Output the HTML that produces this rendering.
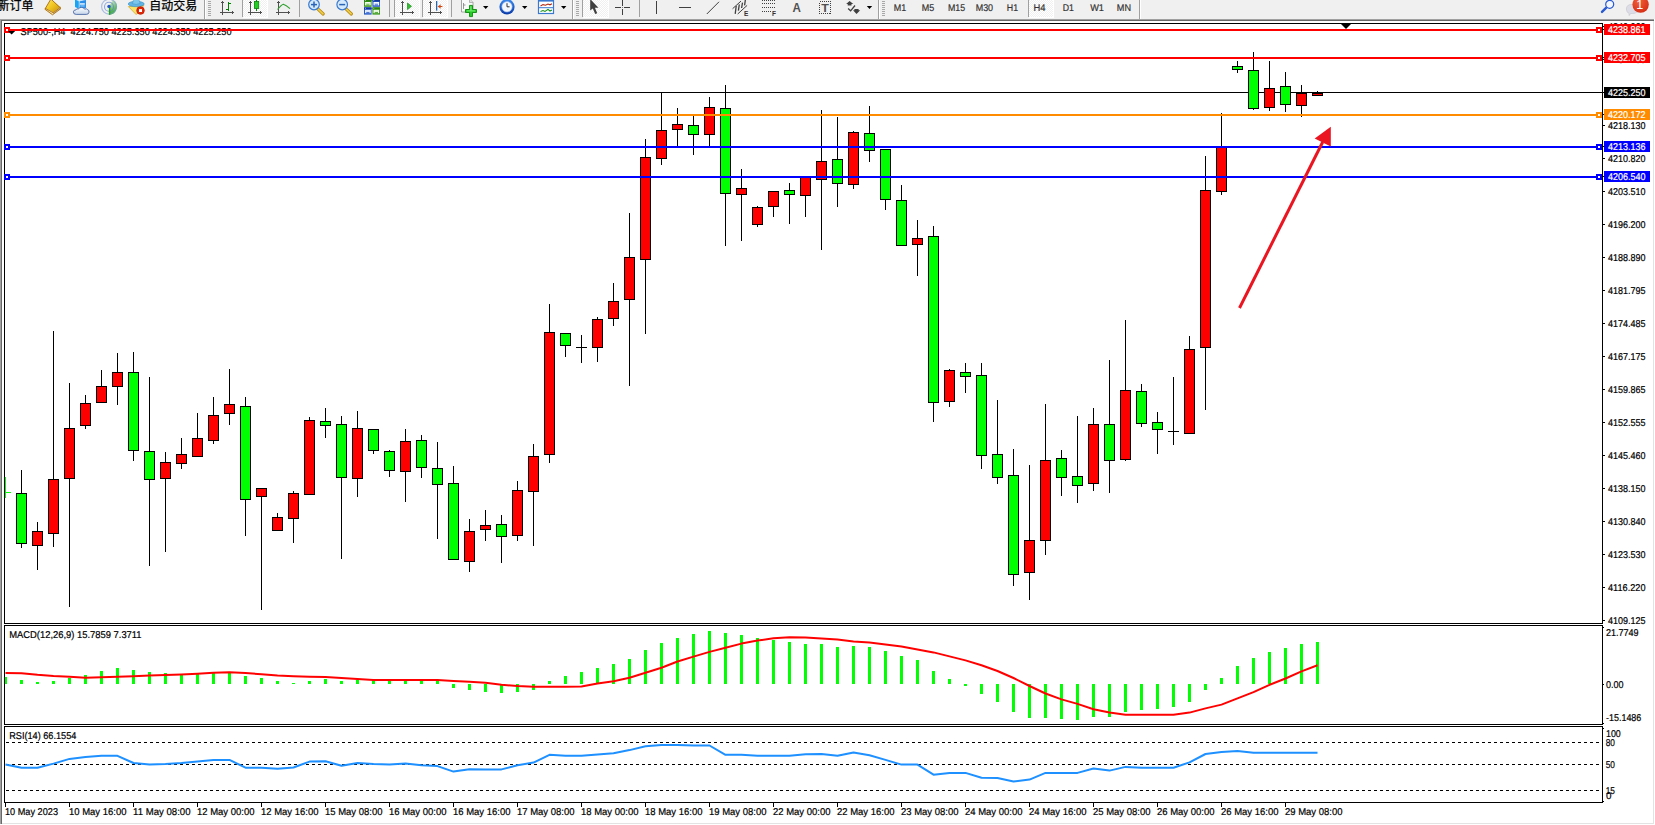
<!DOCTYPE html>
<html><head><meta charset="utf-8"><title>SP500 H4</title>
<style>html,body{margin:0;padding:0;background:#f0f0f0;overflow:hidden}body{width:1655px;height:825px;position:relative}text{white-space:pre}</style>
</head><body>
<svg width="1655" height="825" viewBox="0 0 1655 825" style="position:absolute;left:0;top:0">
<rect x="0" y="0" width="1655" height="825" fill="#f0f0f0" />
<rect x="0" y="19" width="1654" height="805" fill="#a0a0a0" />
<rect x="1" y="20" width="1653" height="804" fill="#696969" />
<rect x="2" y="21" width="1652" height="803" fill="#e3e3e3" />
<rect x="1654" y="19" width="1" height="806" fill="#ffffff" />
<rect x="0" y="824" width="1655" height="1" fill="#ffffff" />
<rect x="2" y="21" width="1651" height="802" fill="#ffffff" />
<g shape-rendering="crispEdges">
<rect x="4" y="23" width="1599" height="1" fill="#000" />
<rect x="4" y="623" width="1599" height="1" fill="#000" />
<rect x="4" y="23" width="1" height="601" fill="#000" />
<rect x="1602" y="23" width="1" height="601" fill="#000" />
<rect x="4" y="625" width="1599" height="1" fill="#000" />
<rect x="4" y="724" width="1599" height="1" fill="#000" />
<rect x="4" y="625" width="1" height="100" fill="#000" />
<rect x="1602" y="625" width="1" height="100" fill="#000" />
<rect x="4" y="726" width="1599" height="1" fill="#000" />
<rect x="4" y="802" width="1599" height="1" fill="#000" />
<rect x="4" y="726" width="1" height="77" fill="#000" />
<rect x="1602" y="726" width="1" height="77" fill="#000" />
<rect x="4" y="92" width="1598" height="1" fill="#000" />
<clipPath id="cm"><rect x="5" y="24" width="1597" height="599"/></clipPath>
<g clip-path="url(#cm)">
<rect x="5" y="477" width="1" height="21" fill="#00ff00" />
<rect x="5" y="492" width="6" height="1" fill="#00ff00" />
<rect x="21" y="470" width="1" height="78" fill="#000" />
<rect x="16" y="493" width="11" height="51" fill="#000" />
<rect x="17" y="494" width="9" height="49" fill="#00ff00" />
<rect x="37" y="522" width="1" height="48" fill="#000" />
<rect x="32" y="531" width="11" height="15" fill="#000" />
<rect x="33" y="532" width="9" height="13" fill="#ff0000" />
<rect x="53" y="331" width="1" height="216" fill="#000" />
<rect x="48" y="479" width="11" height="55" fill="#000" />
<rect x="49" y="480" width="9" height="53" fill="#ff0000" />
<rect x="69" y="383" width="1" height="224" fill="#000" />
<rect x="64" y="428" width="11" height="51" fill="#000" />
<rect x="65" y="429" width="9" height="49" fill="#ff0000" />
<rect x="85" y="395" width="1" height="34" fill="#000" />
<rect x="80" y="403" width="11" height="23" fill="#000" />
<rect x="81" y="404" width="9" height="21" fill="#ff0000" />
<rect x="101" y="370" width="1" height="33" fill="#000" />
<rect x="96" y="386" width="11" height="17" fill="#000" />
<rect x="97" y="387" width="9" height="15" fill="#ff0000" />
<rect x="117" y="353" width="1" height="52" fill="#000" />
<rect x="112" y="372" width="11" height="15" fill="#000" />
<rect x="113" y="373" width="9" height="13" fill="#ff0000" />
<rect x="133" y="352" width="1" height="109" fill="#000" />
<rect x="128" y="372" width="11" height="79" fill="#000" />
<rect x="129" y="373" width="9" height="77" fill="#00ff00" />
<rect x="149" y="377" width="1" height="189" fill="#000" />
<rect x="144" y="451" width="11" height="29" fill="#000" />
<rect x="145" y="452" width="9" height="27" fill="#00ff00" />
<rect x="165" y="452" width="1" height="100" fill="#000" />
<rect x="160" y="462" width="11" height="17" fill="#000" />
<rect x="161" y="463" width="9" height="15" fill="#ff0000" />
<rect x="181" y="438" width="1" height="31" fill="#000" />
<rect x="176" y="454" width="11" height="10" fill="#000" />
<rect x="177" y="455" width="9" height="8" fill="#ff0000" />
<rect x="197" y="413" width="1" height="44" fill="#000" />
<rect x="192" y="438" width="11" height="19" fill="#000" />
<rect x="193" y="439" width="9" height="17" fill="#ff0000" />
<rect x="213" y="397" width="1" height="47" fill="#000" />
<rect x="208" y="415" width="11" height="26" fill="#000" />
<rect x="209" y="416" width="9" height="24" fill="#ff0000" />
<rect x="229" y="369" width="1" height="56" fill="#000" />
<rect x="224" y="404" width="11" height="10" fill="#000" />
<rect x="225" y="405" width="9" height="8" fill="#ff0000" />
<rect x="245" y="397" width="1" height="139" fill="#000" />
<rect x="240" y="406" width="11" height="94" fill="#000" />
<rect x="241" y="407" width="9" height="92" fill="#00ff00" />
<rect x="261" y="488" width="1" height="122" fill="#000" />
<rect x="256" y="488" width="11" height="9" fill="#000" />
<rect x="257" y="489" width="9" height="7" fill="#ff0000" />
<rect x="277" y="513" width="1" height="18" fill="#000" />
<rect x="272" y="517" width="11" height="14" fill="#000" />
<rect x="273" y="518" width="9" height="12" fill="#ff0000" />
<rect x="293" y="491" width="1" height="52" fill="#000" />
<rect x="288" y="493" width="11" height="26" fill="#000" />
<rect x="289" y="494" width="9" height="24" fill="#ff0000" />
<rect x="309" y="417" width="1" height="78" fill="#000" />
<rect x="304" y="420" width="11" height="75" fill="#000" />
<rect x="305" y="421" width="9" height="73" fill="#ff0000" />
<rect x="325" y="408" width="1" height="30" fill="#000" />
<rect x="320" y="421" width="11" height="5" fill="#000" />
<rect x="321" y="422" width="9" height="3" fill="#00ff00" />
<rect x="341" y="416" width="1" height="143" fill="#000" />
<rect x="336" y="424" width="11" height="54" fill="#000" />
<rect x="337" y="425" width="9" height="52" fill="#00ff00" />
<rect x="357" y="411" width="1" height="86" fill="#000" />
<rect x="352" y="428" width="11" height="51" fill="#000" />
<rect x="353" y="429" width="9" height="49" fill="#ff0000" />
<rect x="373" y="429" width="1" height="25" fill="#000" />
<rect x="368" y="429" width="11" height="22" fill="#000" />
<rect x="369" y="430" width="9" height="20" fill="#00ff00" />
<rect x="389" y="450" width="1" height="27" fill="#000" />
<rect x="384" y="451" width="11" height="20" fill="#000" />
<rect x="385" y="452" width="9" height="18" fill="#00ff00" />
<rect x="405" y="429" width="1" height="73" fill="#000" />
<rect x="400" y="441" width="11" height="31" fill="#000" />
<rect x="401" y="442" width="9" height="29" fill="#ff0000" />
<rect x="421" y="435" width="1" height="43" fill="#000" />
<rect x="416" y="440" width="11" height="28" fill="#000" />
<rect x="417" y="441" width="9" height="26" fill="#00ff00" />
<rect x="437" y="442" width="1" height="97" fill="#000" />
<rect x="432" y="468" width="11" height="17" fill="#000" />
<rect x="433" y="469" width="9" height="15" fill="#00ff00" />
<rect x="453" y="466" width="1" height="94" fill="#000" />
<rect x="448" y="483" width="11" height="77" fill="#000" />
<rect x="449" y="484" width="9" height="75" fill="#00ff00" />
<rect x="469" y="519" width="1" height="53" fill="#000" />
<rect x="464" y="531" width="11" height="31" fill="#000" />
<rect x="465" y="532" width="9" height="29" fill="#ff0000" />
<rect x="485" y="510" width="1" height="31" fill="#000" />
<rect x="480" y="525" width="11" height="5" fill="#000" />
<rect x="481" y="526" width="9" height="3" fill="#ff0000" />
<rect x="501" y="515" width="1" height="48" fill="#000" />
<rect x="496" y="524" width="11" height="13" fill="#000" />
<rect x="497" y="525" width="9" height="11" fill="#00ff00" />
<rect x="517" y="481" width="1" height="60" fill="#000" />
<rect x="512" y="490" width="11" height="46" fill="#000" />
<rect x="513" y="491" width="9" height="44" fill="#ff0000" />
<rect x="533" y="444" width="1" height="102" fill="#000" />
<rect x="528" y="456" width="11" height="36" fill="#000" />
<rect x="529" y="457" width="9" height="34" fill="#ff0000" />
<rect x="549" y="304" width="1" height="159" fill="#000" />
<rect x="544" y="332" width="11" height="123" fill="#000" />
<rect x="545" y="333" width="9" height="121" fill="#ff0000" />
<rect x="565" y="333" width="1" height="24" fill="#000" />
<rect x="560" y="333" width="11" height="13" fill="#000" />
<rect x="561" y="334" width="9" height="11" fill="#00ff00" />
<rect x="581" y="335" width="1" height="28" fill="#000" />
<rect x="576" y="347" width="11" height="1" fill="#000" />
<rect x="597" y="317" width="1" height="45" fill="#000" />
<rect x="592" y="319" width="11" height="29" fill="#000" />
<rect x="593" y="320" width="9" height="27" fill="#ff0000" />
<rect x="613" y="283" width="1" height="43" fill="#000" />
<rect x="608" y="301" width="11" height="18" fill="#000" />
<rect x="609" y="302" width="9" height="16" fill="#ff0000" />
<rect x="629" y="213" width="1" height="173" fill="#000" />
<rect x="624" y="257" width="11" height="43" fill="#000" />
<rect x="625" y="258" width="9" height="41" fill="#ff0000" />
<rect x="645" y="139" width="1" height="195" fill="#000" />
<rect x="640" y="157" width="11" height="103" fill="#000" />
<rect x="641" y="158" width="9" height="101" fill="#ff0000" />
<rect x="661" y="92" width="1" height="73" fill="#000" />
<rect x="656" y="130" width="11" height="29" fill="#000" />
<rect x="657" y="131" width="9" height="27" fill="#ff0000" />
<rect x="677" y="108" width="1" height="39" fill="#000" />
<rect x="672" y="124" width="11" height="6" fill="#000" />
<rect x="673" y="125" width="9" height="4" fill="#ff0000" />
<rect x="693" y="116" width="1" height="39" fill="#000" />
<rect x="688" y="125" width="11" height="10" fill="#000" />
<rect x="689" y="126" width="9" height="8" fill="#00ff00" />
<rect x="709" y="97" width="1" height="50" fill="#000" />
<rect x="704" y="107" width="11" height="28" fill="#000" />
<rect x="705" y="108" width="9" height="26" fill="#ff0000" />
<rect x="725" y="85" width="1" height="161" fill="#000" />
<rect x="720" y="108" width="11" height="86" fill="#000" />
<rect x="721" y="109" width="9" height="84" fill="#00ff00" />
<rect x="741" y="169" width="1" height="72" fill="#000" />
<rect x="736" y="188" width="11" height="7" fill="#000" />
<rect x="737" y="189" width="9" height="5" fill="#ff0000" />
<rect x="757" y="206" width="1" height="21" fill="#000" />
<rect x="752" y="207" width="11" height="18" fill="#000" />
<rect x="753" y="208" width="9" height="16" fill="#ff0000" />
<rect x="773" y="191" width="1" height="26" fill="#000" />
<rect x="768" y="191" width="11" height="16" fill="#000" />
<rect x="769" y="192" width="9" height="14" fill="#ff0000" />
<rect x="789" y="183" width="1" height="41" fill="#000" />
<rect x="784" y="190" width="11" height="5" fill="#000" />
<rect x="785" y="191" width="9" height="3" fill="#00ff00" />
<rect x="805" y="177" width="1" height="40" fill="#000" />
<rect x="800" y="177" width="11" height="19" fill="#000" />
<rect x="801" y="178" width="9" height="17" fill="#ff0000" />
<rect x="821" y="110" width="1" height="140" fill="#000" />
<rect x="816" y="161" width="11" height="19" fill="#000" />
<rect x="817" y="162" width="9" height="17" fill="#ff0000" />
<rect x="837" y="117" width="1" height="90" fill="#000" />
<rect x="832" y="159" width="11" height="25" fill="#000" />
<rect x="833" y="160" width="9" height="23" fill="#00ff00" />
<rect x="853" y="131" width="1" height="58" fill="#000" />
<rect x="848" y="132" width="11" height="53" fill="#000" />
<rect x="849" y="133" width="9" height="51" fill="#ff0000" />
<rect x="869" y="106" width="1" height="56" fill="#000" />
<rect x="864" y="133" width="11" height="18" fill="#000" />
<rect x="865" y="134" width="9" height="16" fill="#00ff00" />
<rect x="885" y="149" width="1" height="61" fill="#000" />
<rect x="880" y="149" width="11" height="51" fill="#000" />
<rect x="881" y="150" width="9" height="49" fill="#00ff00" />
<rect x="901" y="185" width="1" height="61" fill="#000" />
<rect x="896" y="200" width="11" height="46" fill="#000" />
<rect x="897" y="201" width="9" height="44" fill="#00ff00" />
<rect x="917" y="220" width="1" height="56" fill="#000" />
<rect x="912" y="238" width="11" height="7" fill="#000" />
<rect x="913" y="239" width="9" height="5" fill="#ff0000" />
<rect x="933" y="226" width="1" height="196" fill="#000" />
<rect x="928" y="236" width="11" height="167" fill="#000" />
<rect x="929" y="237" width="9" height="165" fill="#00ff00" />
<rect x="949" y="369" width="1" height="38" fill="#000" />
<rect x="944" y="370" width="11" height="32" fill="#000" />
<rect x="945" y="371" width="9" height="30" fill="#ff0000" />
<rect x="965" y="363" width="1" height="30" fill="#000" />
<rect x="960" y="372" width="11" height="5" fill="#000" />
<rect x="961" y="373" width="9" height="3" fill="#00ff00" />
<rect x="981" y="363" width="1" height="106" fill="#000" />
<rect x="976" y="375" width="11" height="81" fill="#000" />
<rect x="977" y="376" width="9" height="79" fill="#00ff00" />
<rect x="997" y="400" width="1" height="84" fill="#000" />
<rect x="992" y="454" width="11" height="24" fill="#000" />
<rect x="993" y="455" width="9" height="22" fill="#00ff00" />
<rect x="1013" y="449" width="1" height="137" fill="#000" />
<rect x="1008" y="475" width="11" height="100" fill="#000" />
<rect x="1009" y="476" width="9" height="98" fill="#00ff00" />
<rect x="1029" y="465" width="1" height="135" fill="#000" />
<rect x="1024" y="540" width="11" height="33" fill="#000" />
<rect x="1025" y="541" width="9" height="31" fill="#ff0000" />
<rect x="1045" y="404" width="1" height="151" fill="#000" />
<rect x="1040" y="460" width="11" height="81" fill="#000" />
<rect x="1041" y="461" width="9" height="79" fill="#ff0000" />
<rect x="1061" y="450" width="1" height="46" fill="#000" />
<rect x="1056" y="458" width="11" height="20" fill="#000" />
<rect x="1057" y="459" width="9" height="18" fill="#00ff00" />
<rect x="1077" y="416" width="1" height="87" fill="#000" />
<rect x="1072" y="476" width="11" height="10" fill="#000" />
<rect x="1073" y="477" width="9" height="8" fill="#00ff00" />
<rect x="1093" y="408" width="1" height="83" fill="#000" />
<rect x="1088" y="424" width="11" height="60" fill="#000" />
<rect x="1089" y="425" width="9" height="58" fill="#ff0000" />
<rect x="1109" y="360" width="1" height="133" fill="#000" />
<rect x="1104" y="424" width="11" height="37" fill="#000" />
<rect x="1105" y="425" width="9" height="35" fill="#00ff00" />
<rect x="1125" y="320" width="1" height="141" fill="#000" />
<rect x="1120" y="390" width="11" height="70" fill="#000" />
<rect x="1121" y="391" width="9" height="68" fill="#ff0000" />
<rect x="1141" y="384" width="1" height="43" fill="#000" />
<rect x="1136" y="391" width="11" height="33" fill="#000" />
<rect x="1137" y="392" width="9" height="31" fill="#00ff00" />
<rect x="1157" y="412" width="1" height="42" fill="#000" />
<rect x="1152" y="422" width="11" height="8" fill="#000" />
<rect x="1153" y="423" width="9" height="6" fill="#00ff00" />
<rect x="1173" y="377" width="1" height="68" fill="#000" />
<rect x="1168" y="431" width="11" height="1" fill="#000" />
<rect x="1189" y="336" width="1" height="98" fill="#000" />
<rect x="1184" y="349" width="11" height="85" fill="#000" />
<rect x="1185" y="350" width="9" height="83" fill="#ff0000" />
<rect x="1205" y="156" width="1" height="254" fill="#000" />
<rect x="1200" y="190" width="11" height="158" fill="#000" />
<rect x="1201" y="191" width="9" height="156" fill="#ff0000" />
<rect x="1221" y="113" width="1" height="82" fill="#000" />
<rect x="1216" y="147" width="11" height="45" fill="#000" />
<rect x="1217" y="148" width="9" height="43" fill="#ff0000" />
<rect x="1237" y="61" width="1" height="12" fill="#000" />
<rect x="1232" y="66" width="11" height="4" fill="#000" />
<rect x="1233" y="67" width="9" height="2" fill="#00ff00" />
<rect x="1253" y="52" width="1" height="58" fill="#000" />
<rect x="1248" y="70" width="11" height="39" fill="#000" />
<rect x="1249" y="71" width="9" height="37" fill="#00ff00" />
<rect x="1269" y="61" width="1" height="50" fill="#000" />
<rect x="1264" y="88" width="11" height="20" fill="#000" />
<rect x="1265" y="89" width="9" height="18" fill="#ff0000" />
<rect x="1285" y="72" width="1" height="40" fill="#000" />
<rect x="1280" y="86" width="11" height="19" fill="#000" />
<rect x="1281" y="87" width="9" height="17" fill="#00ff00" />
<rect x="1301" y="85" width="1" height="32" fill="#000" />
<rect x="1296" y="93" width="11" height="13" fill="#000" />
<rect x="1297" y="94" width="9" height="11" fill="#ff0000" />
<rect x="1317" y="91" width="1" height="5" fill="#000" />
<rect x="1312" y="93" width="11" height="3" fill="#000" />
<rect x="1313" y="94" width="9" height="1" fill="#ff0000" />
</g>
<rect x="4" y="29" width="1598" height="2" fill="#ff0000" />
<rect x="4" y="27" width="6" height="6" fill="#ff0000" />
<rect x="6" y="29" width="2" height="2" fill="#fff" />
<rect x="1596" y="27" width="6" height="6" fill="#ff0000" />
<rect x="1598" y="29" width="2" height="2" fill="#fff" />
<rect x="4" y="57" width="1598" height="2" fill="#ff0000" />
<rect x="4" y="55" width="6" height="6" fill="#ff0000" />
<rect x="6" y="57" width="2" height="2" fill="#fff" />
<rect x="1596" y="55" width="6" height="6" fill="#ff0000" />
<rect x="1598" y="57" width="2" height="2" fill="#fff" />
<rect x="4" y="114" width="1598" height="2" fill="#ff8c00" />
<rect x="4" y="112" width="6" height="6" fill="#ff8c00" />
<rect x="6" y="114" width="2" height="2" fill="#fff" />
<rect x="1596" y="112" width="6" height="6" fill="#ff8c00" />
<rect x="1598" y="114" width="2" height="2" fill="#fff" />
<rect x="4" y="146" width="1598" height="2" fill="#0000ff" />
<rect x="4" y="144" width="6" height="6" fill="#0000ff" />
<rect x="6" y="146" width="2" height="2" fill="#fff" />
<rect x="1596" y="144" width="6" height="6" fill="#0000ff" />
<rect x="1598" y="146" width="2" height="2" fill="#fff" />
<rect x="4" y="176" width="1598" height="2" fill="#0000ff" />
<rect x="4" y="174" width="6" height="6" fill="#0000ff" />
<rect x="6" y="176" width="2" height="2" fill="#fff" />
<rect x="1596" y="174" width="6" height="6" fill="#0000ff" />
<rect x="1598" y="176" width="2" height="2" fill="#fff" />
<path d="M1341 24 L1351 24 L1346 29 Z" fill="#000" shape-rendering="auto"/>
</g>
<g><line x1="1239.5" y1="308" x2="1322.7" y2="142" stroke="#ea1520" stroke-width="3"/>
<path d="M1330.8 126.8 L1314.7 138.5 L1330.8 146.5 Z" fill="#ea1520"/></g>
<text x="20.5" y="35" font-family="Liberation Sans, Noto Sans CJK SC, sans-serif" font-size="9.9" fill="#000" text-anchor="start" textLength="211" lengthAdjust="spacingAndGlyphs" xml:space="preserve" stroke="#000" stroke-width="0.2" text-rendering="geometricPrecision">SP500-,H4  4224.750 4225.350 4224.350 4225.250</text>
<g shape-rendering="crispEdges">
<rect x="10" y="29" width="240" height="2" fill="#ff0000" />
</g>
<path d="M8 31 L15.2 31 L11.6 34.6 Z" fill="#000"/>
<g shape-rendering="crispEdges">
<rect x="1603" y="26" width="2" height="1" fill="#000" />
<rect x="1603" y="59" width="2" height="1" fill="#000" />
<rect x="1603" y="92" width="2" height="1" fill="#000" />
<rect x="1603" y="125" width="2" height="1" fill="#000" />
<rect x="1603" y="158" width="2" height="1" fill="#000" />
<rect x="1603" y="191" width="2" height="1" fill="#000" />
<rect x="1603" y="224" width="2" height="1" fill="#000" />
<rect x="1603" y="257" width="2" height="1" fill="#000" />
<rect x="1603" y="290" width="2" height="1" fill="#000" />
<rect x="1603" y="323" width="2" height="1" fill="#000" />
<rect x="1603" y="356" width="2" height="1" fill="#000" />
<rect x="1603" y="389" width="2" height="1" fill="#000" />
<rect x="1603" y="422" width="2" height="1" fill="#000" />
<rect x="1603" y="455" width="2" height="1" fill="#000" />
<rect x="1603" y="488" width="2" height="1" fill="#000" />
<rect x="1603" y="521" width="2" height="1" fill="#000" />
<rect x="1603" y="554" width="2" height="1" fill="#000" />
<rect x="1603" y="587" width="2" height="1" fill="#000" />
<rect x="1603" y="620" width="2" height="1" fill="#000" />
</g>
<text x="1608" y="30.0" font-family="Liberation Sans, Noto Sans CJK SC, sans-serif" font-size="9.9" fill="#000" text-anchor="start" textLength="37.5" lengthAdjust="spacingAndGlyphs"  stroke="#000" stroke-width="0.2" text-rendering="geometricPrecision">4240.060</text>
<text x="1608" y="63.0" font-family="Liberation Sans, Noto Sans CJK SC, sans-serif" font-size="9.9" fill="#000" text-anchor="start" textLength="37.5" lengthAdjust="spacingAndGlyphs"  stroke="#000" stroke-width="0.2" text-rendering="geometricPrecision">4232.750</text>
<text x="1608" y="96.0" font-family="Liberation Sans, Noto Sans CJK SC, sans-serif" font-size="9.9" fill="#000" text-anchor="start" textLength="37.5" lengthAdjust="spacingAndGlyphs"  stroke="#000" stroke-width="0.2" text-rendering="geometricPrecision">4225.440</text>
<text x="1608" y="129.0" font-family="Liberation Sans, Noto Sans CJK SC, sans-serif" font-size="9.9" fill="#000" text-anchor="start" textLength="37.5" lengthAdjust="spacingAndGlyphs"  stroke="#000" stroke-width="0.2" text-rendering="geometricPrecision">4218.130</text>
<text x="1608" y="162.0" font-family="Liberation Sans, Noto Sans CJK SC, sans-serif" font-size="9.9" fill="#000" text-anchor="start" textLength="37.5" lengthAdjust="spacingAndGlyphs"  stroke="#000" stroke-width="0.2" text-rendering="geometricPrecision">4210.820</text>
<text x="1608" y="195.0" font-family="Liberation Sans, Noto Sans CJK SC, sans-serif" font-size="9.9" fill="#000" text-anchor="start" textLength="37.5" lengthAdjust="spacingAndGlyphs"  stroke="#000" stroke-width="0.2" text-rendering="geometricPrecision">4203.510</text>
<text x="1608" y="228.0" font-family="Liberation Sans, Noto Sans CJK SC, sans-serif" font-size="9.9" fill="#000" text-anchor="start" textLength="37.5" lengthAdjust="spacingAndGlyphs"  stroke="#000" stroke-width="0.2" text-rendering="geometricPrecision">4196.200</text>
<text x="1608" y="261.0" font-family="Liberation Sans, Noto Sans CJK SC, sans-serif" font-size="9.9" fill="#000" text-anchor="start" textLength="37.5" lengthAdjust="spacingAndGlyphs"  stroke="#000" stroke-width="0.2" text-rendering="geometricPrecision">4188.890</text>
<text x="1608" y="294.0" font-family="Liberation Sans, Noto Sans CJK SC, sans-serif" font-size="9.9" fill="#000" text-anchor="start" textLength="37.5" lengthAdjust="spacingAndGlyphs"  stroke="#000" stroke-width="0.2" text-rendering="geometricPrecision">4181.795</text>
<text x="1608" y="327.0" font-family="Liberation Sans, Noto Sans CJK SC, sans-serif" font-size="9.9" fill="#000" text-anchor="start" textLength="37.5" lengthAdjust="spacingAndGlyphs"  stroke="#000" stroke-width="0.2" text-rendering="geometricPrecision">4174.485</text>
<text x="1608" y="360.0" font-family="Liberation Sans, Noto Sans CJK SC, sans-serif" font-size="9.9" fill="#000" text-anchor="start" textLength="37.5" lengthAdjust="spacingAndGlyphs"  stroke="#000" stroke-width="0.2" text-rendering="geometricPrecision">4167.175</text>
<text x="1608" y="393.0" font-family="Liberation Sans, Noto Sans CJK SC, sans-serif" font-size="9.9" fill="#000" text-anchor="start" textLength="37.5" lengthAdjust="spacingAndGlyphs"  stroke="#000" stroke-width="0.2" text-rendering="geometricPrecision">4159.865</text>
<text x="1608" y="426.0" font-family="Liberation Sans, Noto Sans CJK SC, sans-serif" font-size="9.9" fill="#000" text-anchor="start" textLength="37.5" lengthAdjust="spacingAndGlyphs"  stroke="#000" stroke-width="0.2" text-rendering="geometricPrecision">4152.555</text>
<text x="1608" y="459.0" font-family="Liberation Sans, Noto Sans CJK SC, sans-serif" font-size="9.9" fill="#000" text-anchor="start" textLength="37.5" lengthAdjust="spacingAndGlyphs"  stroke="#000" stroke-width="0.2" text-rendering="geometricPrecision">4145.460</text>
<text x="1608" y="492.0" font-family="Liberation Sans, Noto Sans CJK SC, sans-serif" font-size="9.9" fill="#000" text-anchor="start" textLength="37.5" lengthAdjust="spacingAndGlyphs"  stroke="#000" stroke-width="0.2" text-rendering="geometricPrecision">4138.150</text>
<text x="1608" y="525.0" font-family="Liberation Sans, Noto Sans CJK SC, sans-serif" font-size="9.9" fill="#000" text-anchor="start" textLength="37.5" lengthAdjust="spacingAndGlyphs"  stroke="#000" stroke-width="0.2" text-rendering="geometricPrecision">4130.840</text>
<text x="1608" y="558.0" font-family="Liberation Sans, Noto Sans CJK SC, sans-serif" font-size="9.9" fill="#000" text-anchor="start" textLength="37.5" lengthAdjust="spacingAndGlyphs"  stroke="#000" stroke-width="0.2" text-rendering="geometricPrecision">4123.530</text>
<text x="1608" y="591.0" font-family="Liberation Sans, Noto Sans CJK SC, sans-serif" font-size="9.9" fill="#000" text-anchor="start" textLength="37.5" lengthAdjust="spacingAndGlyphs"  stroke="#000" stroke-width="0.2" text-rendering="geometricPrecision">4116.220</text>
<text x="1608" y="624.0" font-family="Liberation Sans, Noto Sans CJK SC, sans-serif" font-size="9.9" fill="#000" text-anchor="start" textLength="37.5" lengthAdjust="spacingAndGlyphs"  stroke="#000" stroke-width="0.2" text-rendering="geometricPrecision">4109.125</text>
<g shape-rendering="crispEdges">
<rect x="1604" y="24" width="46" height="11" fill="#ff0000" />
<rect x="1603" y="29" width="1" height="1" fill="#000" />
<rect x="1604" y="52" width="46" height="11" fill="#ff0000" />
<rect x="1603" y="57" width="1" height="1" fill="#000" />
<rect x="1604" y="87" width="46" height="11" fill="#000000" />
<rect x="1603" y="92" width="1" height="1" fill="#000" />
<rect x="1604" y="109" width="46" height="11" fill="#ff8c00" />
<rect x="1603" y="114" width="1" height="1" fill="#000" />
<rect x="1604" y="141" width="46" height="11" fill="#0000ff" />
<rect x="1603" y="146" width="1" height="1" fill="#000" />
<rect x="1604" y="171" width="46" height="11" fill="#0000ff" />
<rect x="1603" y="176" width="1" height="1" fill="#000" />
</g>
<text x="1608" y="33" font-family="Liberation Sans, Noto Sans CJK SC, sans-serif" font-size="9.9" fill="#fff" text-anchor="start" textLength="37.5" lengthAdjust="spacingAndGlyphs"  stroke="#fff" stroke-width="0.2" text-rendering="geometricPrecision">4238.861</text>
<text x="1608" y="61" font-family="Liberation Sans, Noto Sans CJK SC, sans-serif" font-size="9.9" fill="#fff" text-anchor="start" textLength="37.5" lengthAdjust="spacingAndGlyphs"  stroke="#fff" stroke-width="0.2" text-rendering="geometricPrecision">4232.705</text>
<text x="1608" y="96" font-family="Liberation Sans, Noto Sans CJK SC, sans-serif" font-size="9.9" fill="#fff" text-anchor="start" textLength="37.5" lengthAdjust="spacingAndGlyphs"  stroke="#fff" stroke-width="0.2" text-rendering="geometricPrecision">4225.250</text>
<text x="1608" y="118" font-family="Liberation Sans, Noto Sans CJK SC, sans-serif" font-size="9.9" fill="#fff" text-anchor="start" textLength="37.5" lengthAdjust="spacingAndGlyphs"  stroke="#fff" stroke-width="0.2" text-rendering="geometricPrecision">4220.172</text>
<text x="1608" y="150" font-family="Liberation Sans, Noto Sans CJK SC, sans-serif" font-size="9.9" fill="#fff" text-anchor="start" textLength="37.5" lengthAdjust="spacingAndGlyphs"  stroke="#fff" stroke-width="0.2" text-rendering="geometricPrecision">4213.136</text>
<text x="1608" y="180" font-family="Liberation Sans, Noto Sans CJK SC, sans-serif" font-size="9.9" fill="#fff" text-anchor="start" textLength="37.5" lengthAdjust="spacingAndGlyphs"  stroke="#fff" stroke-width="0.2" text-rendering="geometricPrecision">4206.540</text>
<clipPath id="ca"><rect x="5" y="626" width="1597" height="98"/></clipPath>
<g clip-path="url(#ca)"><g shape-rendering="crispEdges">
<rect x="4" y="677" width="3" height="7" fill="#00ff00" />
<rect x="20" y="680" width="3" height="4" fill="#00ff00" />
<rect x="36" y="682" width="3" height="2" fill="#00ff00" />
<rect x="52" y="681" width="3" height="3" fill="#00ff00" />
<rect x="68" y="678" width="3" height="6" fill="#00ff00" />
<rect x="84" y="675" width="3" height="9" fill="#00ff00" />
<rect x="100" y="671" width="3" height="13" fill="#00ff00" />
<rect x="116" y="668" width="3" height="16" fill="#00ff00" />
<rect x="132" y="670" width="3" height="14" fill="#00ff00" />
<rect x="148" y="672" width="3" height="12" fill="#00ff00" />
<rect x="164" y="673" width="3" height="11" fill="#00ff00" />
<rect x="180" y="674" width="3" height="10" fill="#00ff00" />
<rect x="196" y="673" width="3" height="11" fill="#00ff00" />
<rect x="212" y="672" width="3" height="12" fill="#00ff00" />
<rect x="228" y="672" width="3" height="12" fill="#00ff00" />
<rect x="244" y="676" width="3" height="8" fill="#00ff00" />
<rect x="260" y="678" width="3" height="6" fill="#00ff00" />
<rect x="276" y="681" width="3" height="3" fill="#00ff00" />
<rect x="292" y="683" width="3" height="1" fill="#00ff00" />
<rect x="308" y="681" width="3" height="3" fill="#00ff00" />
<rect x="324" y="679" width="3" height="5" fill="#00ff00" />
<rect x="340" y="681" width="3" height="3" fill="#00ff00" />
<rect x="356" y="680" width="3" height="4" fill="#00ff00" />
<rect x="372" y="680" width="3" height="4" fill="#00ff00" />
<rect x="388" y="680" width="3" height="4" fill="#00ff00" />
<rect x="404" y="680" width="3" height="4" fill="#00ff00" />
<rect x="420" y="680" width="3" height="4" fill="#00ff00" />
<rect x="436" y="681" width="3" height="3" fill="#00ff00" />
<rect x="452" y="684" width="3" height="4" fill="#00ff00" />
<rect x="468" y="684" width="3" height="6" fill="#00ff00" />
<rect x="484" y="684" width="3" height="8" fill="#00ff00" />
<rect x="500" y="684" width="3" height="9" fill="#00ff00" />
<rect x="516" y="684" width="3" height="8" fill="#00ff00" />
<rect x="532" y="684" width="3" height="6" fill="#00ff00" />
<rect x="548" y="681" width="3" height="3" fill="#00ff00" />
<rect x="564" y="676" width="3" height="8" fill="#00ff00" />
<rect x="580" y="672" width="3" height="12" fill="#00ff00" />
<rect x="596" y="668" width="3" height="16" fill="#00ff00" />
<rect x="612" y="664" width="3" height="20" fill="#00ff00" />
<rect x="628" y="659" width="3" height="25" fill="#00ff00" />
<rect x="644" y="650" width="3" height="34" fill="#00ff00" />
<rect x="660" y="643" width="3" height="41" fill="#00ff00" />
<rect x="676" y="638" width="3" height="46" fill="#00ff00" />
<rect x="692" y="634" width="3" height="50" fill="#00ff00" />
<rect x="708" y="631" width="3" height="53" fill="#00ff00" />
<rect x="724" y="633" width="3" height="51" fill="#00ff00" />
<rect x="740" y="635" width="3" height="49" fill="#00ff00" />
<rect x="756" y="638" width="3" height="46" fill="#00ff00" />
<rect x="772" y="640" width="3" height="44" fill="#00ff00" />
<rect x="788" y="642" width="3" height="42" fill="#00ff00" />
<rect x="804" y="644" width="3" height="40" fill="#00ff00" />
<rect x="820" y="644" width="3" height="40" fill="#00ff00" />
<rect x="836" y="647" width="3" height="37" fill="#00ff00" />
<rect x="852" y="646" width="3" height="38" fill="#00ff00" />
<rect x="868" y="647" width="3" height="37" fill="#00ff00" />
<rect x="884" y="651" width="3" height="33" fill="#00ff00" />
<rect x="900" y="656" width="3" height="28" fill="#00ff00" />
<rect x="916" y="660" width="3" height="24" fill="#00ff00" />
<rect x="932" y="671" width="3" height="13" fill="#00ff00" />
<rect x="948" y="679" width="3" height="5" fill="#00ff00" />
<rect x="964" y="684" width="3" height="2" fill="#00ff00" />
<rect x="980" y="684" width="3" height="10" fill="#00ff00" />
<rect x="996" y="684" width="3" height="18" fill="#00ff00" />
<rect x="1012" y="684" width="3" height="28" fill="#00ff00" />
<rect x="1028" y="684" width="3" height="34" fill="#00ff00" />
<rect x="1044" y="684" width="3" height="34" fill="#00ff00" />
<rect x="1060" y="684" width="3" height="35" fill="#00ff00" />
<rect x="1076" y="684" width="3" height="36" fill="#00ff00" />
<rect x="1092" y="684" width="3" height="33" fill="#00ff00" />
<rect x="1108" y="684" width="3" height="33" fill="#00ff00" />
<rect x="1124" y="684" width="3" height="28" fill="#00ff00" />
<rect x="1140" y="684" width="3" height="26" fill="#00ff00" />
<rect x="1156" y="684" width="3" height="25" fill="#00ff00" />
<rect x="1172" y="684" width="3" height="23" fill="#00ff00" />
<rect x="1188" y="684" width="3" height="18" fill="#00ff00" />
<rect x="1204" y="684" width="3" height="6" fill="#00ff00" />
<rect x="1220" y="678" width="3" height="6" fill="#00ff00" />
<rect x="1236" y="666" width="3" height="18" fill="#00ff00" />
<rect x="1252" y="658" width="3" height="26" fill="#00ff00" />
<rect x="1268" y="652" width="3" height="32" fill="#00ff00" />
<rect x="1284" y="648" width="3" height="36" fill="#00ff00" />
<rect x="1300" y="644" width="3" height="40" fill="#00ff00" />
<rect x="1316" y="642" width="3" height="42" fill="#00ff00" />
</g>
<polyline points="5.5,673 21.5,673.2 37.5,674.8 53.5,676 69.5,676.8 85.5,677.7 101.5,677.3 117.5,676.7 133.5,676.2 149.5,675.5 165.5,675 181.5,674.5 197.5,673.7 213.5,672.8 229.5,672.2 245.5,673 261.5,674.3 277.5,675.5 293.5,676.2 309.5,676.7 325.5,677 341.5,678 357.5,679 373.5,680 389.5,680 405.5,680 421.5,680 437.5,680 453.5,681 469.5,681.8 485.5,682.8 501.5,684.8 517.5,686 533.5,686.8 549.5,686.8 565.5,686.8 581.5,686.5 597.5,683.5 613.5,681.3 629.5,677.7 645.5,672.7 661.5,667.7 677.5,661.5 693.5,656.6 709.5,651.9 725.5,647.8 741.5,643.6 757.5,640.6 773.5,638.3 789.5,637.3 805.5,637.4 821.5,638.5 837.5,639.4 853.5,641.4 869.5,642.4 885.5,644.4 901.5,646.4 917.5,649.4 933.5,652.4 949.5,656.4 965.5,660.4 981.5,665.2 997.5,671 1013.5,678 1029.5,686 1045.5,693.5 1061.5,699.4 1077.5,703.9 1093.5,709.2 1109.5,712.6 1125.5,714.7 1141.5,714.7 1157.5,714.7 1173.5,714.7 1189.5,712.6 1205.5,708.4 1221.5,704.6 1237.5,698.4 1253.5,692.1 1269.5,684.8 1285.5,678.5 1301.5,671.4 1317.5,665.2" fill="none" stroke="#ff0000" stroke-width="2" stroke-linejoin="round"/>
</g>
<text x="9.2" y="638.2" font-family="Liberation Sans, Noto Sans CJK SC, sans-serif" font-size="9.9" fill="#000" text-anchor="start" textLength="132.4" lengthAdjust="spacingAndGlyphs"  stroke="#000" stroke-width="0.2" text-rendering="geometricPrecision">MACD(12,26,9) 15.7859 7.3711</text>
<g shape-rendering="crispEdges">
<rect x="1603" y="627" width="1" height="1" fill="#000" />
<rect x="1603" y="684" width="1" height="1" fill="#000" />
<rect x="1603" y="723" width="1" height="1" fill="#000" />
</g>
<text x="1606" y="636.4" font-family="Liberation Sans, Noto Sans CJK SC, sans-serif" font-size="9.9" fill="#000" text-anchor="start" textLength="32.6" lengthAdjust="spacingAndGlyphs"  stroke="#000" stroke-width="0.2" text-rendering="geometricPrecision">21.7749</text>
<text x="1606" y="688.2" font-family="Liberation Sans, Noto Sans CJK SC, sans-serif" font-size="9.9" fill="#000" text-anchor="start" textLength="17.6" lengthAdjust="spacingAndGlyphs"  stroke="#000" stroke-width="0.2" text-rendering="geometricPrecision">0.00</text>
<text x="1606" y="721.4" font-family="Liberation Sans, Noto Sans CJK SC, sans-serif" font-size="9.9" fill="#000" text-anchor="start" textLength="35.3" lengthAdjust="spacingAndGlyphs"  stroke="#000" stroke-width="0.2" text-rendering="geometricPrecision">-15.1486</text>
<g shape-rendering="crispEdges">
<line x1="6" y1="742.5" x2="1600" y2="742.5" stroke="#000" stroke-width="1" stroke-dasharray="3 3"/>
<line x1="6" y1="764.5" x2="1600" y2="764.5" stroke="#000" stroke-width="1" stroke-dasharray="3 3"/>
<line x1="6" y1="790.5" x2="1600" y2="790.5" stroke="#000" stroke-width="1" stroke-dasharray="3 3"/>
</g>
<clipPath id="cr"><rect x="5" y="727" width="1597" height="75"/></clipPath>
<g clip-path="url(#cr)"><polyline points="5.5,764.4 21.5,767.7 37.5,767.7 53.5,763.6 69.5,758.9 85.5,757 101.5,755.8 117.5,755.8 133.5,763 149.5,764.6 165.5,764 181.5,763 197.5,761.6 213.5,759.9 229.5,759.9 245.5,767.7 261.5,767.7 277.5,768.8 293.5,767.5 309.5,761.6 325.5,761.2 341.5,765.7 357.5,763 373.5,764 389.5,764.6 405.5,763.4 421.5,765.3 437.5,766.1 453.5,771.6 469.5,769.2 485.5,769.4 501.5,769.4 517.5,765.3 533.5,762.6 549.5,754.8 565.5,755.8 581.5,755.8 597.5,754.4 613.5,753.3 629.5,750.1 645.5,746.2 661.5,745.1 677.5,744.9 693.5,745.5 709.5,745.5 725.5,754.8 741.5,754.8 757.5,755.8 773.5,755.8 789.5,755.8 805.5,754.2 821.5,754 837.5,755.8 853.5,752.5 869.5,755.2 885.5,759.9 901.5,764.6 917.5,764.6 933.5,774.7 949.5,772.9 965.5,772.9 981.5,777.8 997.5,778 1013.5,781.5 1029.5,779.6 1045.5,772.9 1061.5,772.9 1077.5,772.9 1093.5,768.5 1109.5,770.6 1125.5,766.9 1141.5,767.7 1157.5,767.7 1173.5,767.7 1189.5,762.4 1205.5,754 1221.5,751.9 1237.5,750.9 1253.5,752.7 1269.5,752.7 1285.5,752.7 1301.5,752.7 1317.5,752.7" fill="none" stroke="#1e90ff" stroke-width="2" stroke-linejoin="round"/></g>
<text x="9.2" y="739.2" font-family="Liberation Sans, Noto Sans CJK SC, sans-serif" font-size="9.9" fill="#000" text-anchor="start" textLength="67.2" lengthAdjust="spacingAndGlyphs"  stroke="#000" stroke-width="0.2" text-rendering="geometricPrecision">RSI(14) 66.1554</text>
<g shape-rendering="crispEdges">
<rect x="1603" y="728" width="1" height="1" fill="#000" />
<rect x="1603" y="801" width="1" height="1" fill="#000" />
</g>
<text x="1606" y="737.2" font-family="Liberation Sans, Noto Sans CJK SC, sans-serif" font-size="9.9" fill="#000" text-anchor="start" textLength="14.8" lengthAdjust="spacingAndGlyphs"  stroke="#000" stroke-width="0.2" text-rendering="geometricPrecision">100</text>
<text x="1605.7" y="746.3" font-family="Liberation Sans, Noto Sans CJK SC, sans-serif" font-size="9.9" fill="#000" text-anchor="start" textLength="9.2" lengthAdjust="spacingAndGlyphs"  stroke="#000" stroke-width="0.2" text-rendering="geometricPrecision">80</text>
<text x="1605.7" y="768.3" font-family="Liberation Sans, Noto Sans CJK SC, sans-serif" font-size="9.9" fill="#000" text-anchor="start" textLength="9.2" lengthAdjust="spacingAndGlyphs"  stroke="#000" stroke-width="0.2" text-rendering="geometricPrecision">50</text>
<text x="1605.7" y="793.9" font-family="Liberation Sans, Noto Sans CJK SC, sans-serif" font-size="9.9" fill="#000" text-anchor="start" textLength="9.2" lengthAdjust="spacingAndGlyphs"  stroke="#000" stroke-width="0.2" text-rendering="geometricPrecision">15</text>
<text x="1606" y="799.2" font-family="Liberation Sans, Noto Sans CJK SC, sans-serif" font-size="9.9" fill="#000" text-anchor="start"  stroke="#000" stroke-width="0.2" text-rendering="geometricPrecision">0</text>
<g shape-rendering="crispEdges">
<rect x="5" y="803" width="1" height="4" fill="#000" />
<rect x="69" y="803" width="1" height="4" fill="#000" />
<rect x="133" y="803" width="1" height="4" fill="#000" />
<rect x="197" y="803" width="1" height="4" fill="#000" />
<rect x="261" y="803" width="1" height="4" fill="#000" />
<rect x="325" y="803" width="1" height="4" fill="#000" />
<rect x="389" y="803" width="1" height="4" fill="#000" />
<rect x="453" y="803" width="1" height="4" fill="#000" />
<rect x="517" y="803" width="1" height="4" fill="#000" />
<rect x="581" y="803" width="1" height="4" fill="#000" />
<rect x="645" y="803" width="1" height="4" fill="#000" />
<rect x="709" y="803" width="1" height="4" fill="#000" />
<rect x="773" y="803" width="1" height="4" fill="#000" />
<rect x="837" y="803" width="1" height="4" fill="#000" />
<rect x="901" y="803" width="1" height="4" fill="#000" />
<rect x="965" y="803" width="1" height="4" fill="#000" />
<rect x="1029" y="803" width="1" height="4" fill="#000" />
<rect x="1093" y="803" width="1" height="4" fill="#000" />
<rect x="1157" y="803" width="1" height="4" fill="#000" />
<rect x="1221" y="803" width="1" height="4" fill="#000" />
<rect x="1285" y="803" width="1" height="4" fill="#000" />
</g>
<text x="5" y="815.0" font-family="Liberation Sans, Noto Sans CJK SC, sans-serif" font-size="9.9" fill="#000" text-anchor="start" textLength="53" lengthAdjust="spacingAndGlyphs"  stroke="#000" stroke-width="0.2" text-rendering="geometricPrecision">10 May 2023</text>
<text x="69" y="815.0" font-family="Liberation Sans, Noto Sans CJK SC, sans-serif" font-size="9.9" fill="#000" text-anchor="start" textLength="57.5" lengthAdjust="spacingAndGlyphs"  stroke="#000" stroke-width="0.2" text-rendering="geometricPrecision">10 May 16:00</text>
<text x="133" y="815.0" font-family="Liberation Sans, Noto Sans CJK SC, sans-serif" font-size="9.9" fill="#000" text-anchor="start" textLength="57.5" lengthAdjust="spacingAndGlyphs"  stroke="#000" stroke-width="0.2" text-rendering="geometricPrecision">11 May 08:00</text>
<text x="197" y="815.0" font-family="Liberation Sans, Noto Sans CJK SC, sans-serif" font-size="9.9" fill="#000" text-anchor="start" textLength="57.5" lengthAdjust="spacingAndGlyphs"  stroke="#000" stroke-width="0.2" text-rendering="geometricPrecision">12 May 00:00</text>
<text x="261" y="815.0" font-family="Liberation Sans, Noto Sans CJK SC, sans-serif" font-size="9.9" fill="#000" text-anchor="start" textLength="57.5" lengthAdjust="spacingAndGlyphs"  stroke="#000" stroke-width="0.2" text-rendering="geometricPrecision">12 May 16:00</text>
<text x="325" y="815.0" font-family="Liberation Sans, Noto Sans CJK SC, sans-serif" font-size="9.9" fill="#000" text-anchor="start" textLength="57.5" lengthAdjust="spacingAndGlyphs"  stroke="#000" stroke-width="0.2" text-rendering="geometricPrecision">15 May 08:00</text>
<text x="389" y="815.0" font-family="Liberation Sans, Noto Sans CJK SC, sans-serif" font-size="9.9" fill="#000" text-anchor="start" textLength="57.5" lengthAdjust="spacingAndGlyphs"  stroke="#000" stroke-width="0.2" text-rendering="geometricPrecision">16 May 00:00</text>
<text x="453" y="815.0" font-family="Liberation Sans, Noto Sans CJK SC, sans-serif" font-size="9.9" fill="#000" text-anchor="start" textLength="57.5" lengthAdjust="spacingAndGlyphs"  stroke="#000" stroke-width="0.2" text-rendering="geometricPrecision">16 May 16:00</text>
<text x="517" y="815.0" font-family="Liberation Sans, Noto Sans CJK SC, sans-serif" font-size="9.9" fill="#000" text-anchor="start" textLength="57.5" lengthAdjust="spacingAndGlyphs"  stroke="#000" stroke-width="0.2" text-rendering="geometricPrecision">17 May 08:00</text>
<text x="581" y="815.0" font-family="Liberation Sans, Noto Sans CJK SC, sans-serif" font-size="9.9" fill="#000" text-anchor="start" textLength="57.5" lengthAdjust="spacingAndGlyphs"  stroke="#000" stroke-width="0.2" text-rendering="geometricPrecision">18 May 00:00</text>
<text x="645" y="815.0" font-family="Liberation Sans, Noto Sans CJK SC, sans-serif" font-size="9.9" fill="#000" text-anchor="start" textLength="57.5" lengthAdjust="spacingAndGlyphs"  stroke="#000" stroke-width="0.2" text-rendering="geometricPrecision">18 May 16:00</text>
<text x="709" y="815.0" font-family="Liberation Sans, Noto Sans CJK SC, sans-serif" font-size="9.9" fill="#000" text-anchor="start" textLength="57.5" lengthAdjust="spacingAndGlyphs"  stroke="#000" stroke-width="0.2" text-rendering="geometricPrecision">19 May 08:00</text>
<text x="773" y="815.0" font-family="Liberation Sans, Noto Sans CJK SC, sans-serif" font-size="9.9" fill="#000" text-anchor="start" textLength="57.5" lengthAdjust="spacingAndGlyphs"  stroke="#000" stroke-width="0.2" text-rendering="geometricPrecision">22 May 00:00</text>
<text x="837" y="815.0" font-family="Liberation Sans, Noto Sans CJK SC, sans-serif" font-size="9.9" fill="#000" text-anchor="start" textLength="57.5" lengthAdjust="spacingAndGlyphs"  stroke="#000" stroke-width="0.2" text-rendering="geometricPrecision">22 May 16:00</text>
<text x="901" y="815.0" font-family="Liberation Sans, Noto Sans CJK SC, sans-serif" font-size="9.9" fill="#000" text-anchor="start" textLength="57.5" lengthAdjust="spacingAndGlyphs"  stroke="#000" stroke-width="0.2" text-rendering="geometricPrecision">23 May 08:00</text>
<text x="965" y="815.0" font-family="Liberation Sans, Noto Sans CJK SC, sans-serif" font-size="9.9" fill="#000" text-anchor="start" textLength="57.5" lengthAdjust="spacingAndGlyphs"  stroke="#000" stroke-width="0.2" text-rendering="geometricPrecision">24 May 00:00</text>
<text x="1029" y="815.0" font-family="Liberation Sans, Noto Sans CJK SC, sans-serif" font-size="9.9" fill="#000" text-anchor="start" textLength="57.5" lengthAdjust="spacingAndGlyphs"  stroke="#000" stroke-width="0.2" text-rendering="geometricPrecision">24 May 16:00</text>
<text x="1093" y="815.0" font-family="Liberation Sans, Noto Sans CJK SC, sans-serif" font-size="9.9" fill="#000" text-anchor="start" textLength="57.5" lengthAdjust="spacingAndGlyphs"  stroke="#000" stroke-width="0.2" text-rendering="geometricPrecision">25 May 08:00</text>
<text x="1157" y="815.0" font-family="Liberation Sans, Noto Sans CJK SC, sans-serif" font-size="9.9" fill="#000" text-anchor="start" textLength="57.5" lengthAdjust="spacingAndGlyphs"  stroke="#000" stroke-width="0.2" text-rendering="geometricPrecision">26 May 00:00</text>
<text x="1221" y="815.0" font-family="Liberation Sans, Noto Sans CJK SC, sans-serif" font-size="9.9" fill="#000" text-anchor="start" textLength="57.5" lengthAdjust="spacingAndGlyphs"  stroke="#000" stroke-width="0.2" text-rendering="geometricPrecision">26 May 16:00</text>
<text x="1285" y="815.0" font-family="Liberation Sans, Noto Sans CJK SC, sans-serif" font-size="9.9" fill="#000" text-anchor="start" textLength="57.5" lengthAdjust="spacingAndGlyphs"  stroke="#000" stroke-width="0.2" text-rendering="geometricPrecision">29 May 08:00</text>
<defs>
<linearGradient id="gGold" x1="0" y1="0" x2="1" y2="1"><stop offset="0" stop-color="#ffe860"/><stop offset="0.5" stop-color="#f0c420"/><stop offset="1" stop-color="#c48c10"/></linearGradient>
<linearGradient id="gBlue" x1="0" y1="0" x2="0" y2="1"><stop offset="0" stop-color="#5aa8f0"/><stop offset="1" stop-color="#1a5fd0"/></linearGradient>
<linearGradient id="gCloud" x1="0" y1="0" x2="0" y2="1"><stop offset="0" stop-color="#ffffff"/><stop offset="1" stop-color="#c4d4ea"/></linearGradient>
<radialGradient id="gBadge" cx="0.4" cy="0.3" r="0.8"><stop offset="0" stop-color="#f0603a"/><stop offset="1" stop-color="#d42810"/></radialGradient>
<linearGradient id="gClock" x1="0" y1="0" x2="0" y2="1"><stop offset="0" stop-color="#3a8af0"/><stop offset="1" stop-color="#0a3aa8"/></linearGradient>
<pattern id="chk" width="2" height="2" patternUnits="userSpaceOnUse"><rect width="2" height="2" fill="#f0f0f0"/><rect width="1" height="1" fill="#fff"/><rect x="1" y="1" width="1" height="1" fill="#fff"/></pattern>
<linearGradient id="gSig" x1="0" y1="0" x2="0.3" y2="1"><stop offset="0" stop-color="#dcecdc"/><stop offset="1" stop-color="#38a838"/></linearGradient>
</defs>
<g>
<clipPath id="ctb"><rect x="0" y="0" width="1655" height="19"/></clipPath>
<g clip-path="url(#ctb)">
<text x="-2.5" y="10.4" font-family="Liberation Sans, Noto Sans CJK SC, sans-serif" font-size="12" fill="#000" stroke="#000" stroke-width="0.25">新订单</text>
<text x="149.3" y="10.4" font-family="Liberation Sans, Noto Sans CJK SC, sans-serif" font-size="12" fill="#000" stroke="#000" stroke-width="0.25">自动交易</text>
<path d="M50.9 -1 L60.2 7 L53.4 12.4 L45.3 8.2 Z" fill="url(#gGold)"/>
<path d="M45 8.6 L52.7 13.5 L52.6 14.8 L44.9 9.7 Z" fill="#f6dc78"/>
<path d="M53.4 12.4 L60.3 7.1 L61 8.5 L52.6 14.8 Z" fill="#d8c088"/>
<path d="M50.9 -1 L61 8.5 L52.5 14.8 L44.9 9.2 Z M45.2 8.3 L53.2 12.8 L60.6 7.2" fill="none" stroke="#a86c14" stroke-width="0.9" stroke-linejoin="round"/>
<path d="M75 -1 L79.2 1 L79.2 9 L75 7 Z" fill="#18a4f4"/>
<path d="M79.2 1 L86 -0.5 L86 8 L79.2 9 Z" fill="#2a8ee8"/>
<path d="M75 -1 L79.2 1 L86 -0.5 M79.2 1 L79.2 9" stroke="#d8f0ff" stroke-width="0.7" fill="none"/>
<rect x="80" y="3.3" width="4.8" height="1.3" fill="#ffffff"/><rect x="80.4" y="5.5" width="4.2" height="0.9" fill="#a8dcff"/>
<path d="M76.2 14.4 Q73.3 14.4 73.4 11.8 Q73.6 9.8 76 9.9 Q76.4 8.4 78.4 8.9 Q79.6 7.2 81.8 7.4 Q84 7.6 84.6 9.2 Q86.6 8.2 87.8 9.8 Q89.2 10 89 12.2 Q88.8 14.4 86.2 14.4 Z" fill="url(#gCloud)" stroke="#4a68a4" stroke-width="0.9"/>
<g fill="none">
<path d="M109 6.7 L109 14.7 A8 8 0 0 0 113 -0.2 Z" fill="url(#gSig)" stroke="none"/>
<circle cx="109" cy="6.7" r="7.4" stroke="#7a9ad8" stroke-width="1.1" opacity="0.6"/>
<circle cx="109" cy="6.7" r="4.5" stroke="#5a80d0" stroke-width="1.1" opacity="0.65"/>
<path d="M109.6 7 L109.6 14.8" stroke="#20a020" stroke-width="1.4"/>
<circle cx="109" cy="6.4" r="1.7" fill="#2458c8" stroke="none"/>
</g>
<path d="M128.4 6.6 L143.8 5.4 L136.2 14.6 Z" fill="#f8e468" stroke="#d0a020" stroke-width="0.7" stroke-linejoin="round"/>
<ellipse cx="136.2" cy="4" rx="8" ry="2.7" fill="#62b4e4" stroke="#3a90c4" stroke-width="0.6"/>
<path d="M132.4 3.6 Q133.6 0 133.8 -1 L138.8 -1 Q139 0 140.2 3.4 Q136 5.4 132.4 3.6 Z" fill="#7cc6ec" stroke="#3a90c4" stroke-width="0.5"/>
<circle cx="140.5" cy="10.5" r="4" fill="#e02808"/><circle cx="140.5" cy="10.5" r="3.7" fill="none" stroke="#b81c04" stroke-width="0.6"/>
<rect x="139" y="9.1" width="3" height="2.9" fill="#fff"/>
<rect x="204" y="0" width="1" height="19" fill="#a0a0a0" shape-rendering="crispEdges"/><rect x="205" y="0" width="1" height="19" fill="#ffffff" shape-rendering="crispEdges"/>
<g shape-rendering="crispEdges">
<rect x="208" y="1" width="3" height="1" fill="#a8a8a8"/>
<rect x="208" y="3" width="3" height="1" fill="#a8a8a8"/>
<rect x="208" y="5" width="3" height="1" fill="#a8a8a8"/>
<rect x="208" y="7" width="3" height="1" fill="#a8a8a8"/>
<rect x="208" y="9" width="3" height="1" fill="#a8a8a8"/>
<rect x="208" y="11" width="3" height="1" fill="#a8a8a8"/>
<rect x="208" y="13" width="3" height="1" fill="#a8a8a8"/>
<rect x="208" y="15" width="3" height="1" fill="#a8a8a8"/>
</g>
<g fill="#505050" shape-rendering="crispEdges"><rect x="222" y="1" width="1" height="14"/><rect x="220" y="12" width="14" height="1"/><rect x="221" y="2" width="3" height="1"/><rect x="232" y="11" width="1" height="3"/></g>
<g fill="#008000" shape-rendering="crispEdges"><rect x="228" y="2" width="1" height="9"/><rect x="226" y="9" width="2" height="1"/><rect x="229" y="3" width="2" height="1"/></g>
<rect x="243" y="17" width="25" height="1" fill="#fff" shape-rendering="crispEdges"/><rect x="267" y="0" width="1" height="18" fill="#fff" shape-rendering="crispEdges"/>
<rect x="243" y="0" width="24" height="17" fill="url(#chk)" shape-rendering="crispEdges"/><rect x="242" y="0" width="1" height="17" fill="#a0a0a0" shape-rendering="crispEdges"/>
<g fill="#505050" shape-rendering="crispEdges"><rect x="250" y="1" width="1" height="14"/><rect x="248" y="12" width="14" height="1"/><rect x="249" y="2" width="3" height="1"/><rect x="260" y="11" width="1" height="3"/></g>
<rect x="256" y="0" width="1" height="11" fill="#108010" shape-rendering="crispEdges"/><rect x="254.5" y="1.5" width="4.2" height="7" fill="#22d022" stroke="#108010" stroke-width="0.8"/>
<g fill="#505050" shape-rendering="crispEdges"><rect x="278" y="1" width="1" height="14"/><rect x="276" y="12" width="14" height="1"/><rect x="277" y="2" width="3" height="1"/><rect x="288" y="11" width="1" height="3"/></g>
<path d="M277.5 9.5 Q281 5 283.3 4.2 Q286 5 290 8.6" stroke="#30a030" stroke-width="1.1" fill="none"/>
<rect x="299" y="0" width="1" height="17" fill="#a0a0a0" shape-rendering="crispEdges"/>
<line x1="317.8" y1="8.8" x2="323.2" y2="14" stroke="#b88a18" stroke-width="3.2" stroke-linecap="round"/>
<line x1="318" y1="9" x2="323" y2="13.8" stroke="#f0d048" stroke-width="1.6" stroke-linecap="round"/>
<circle cx="314" cy="4.5" r="5.3" fill="#d4eafc" stroke="#3a7ad0" stroke-width="1.2"/>
<line x1="311" y1="4.6" x2="317" y2="4.6" stroke="#2a64b8" stroke-width="1.5"/>
<line x1="314" y1="1.6" x2="314" y2="7.6" stroke="#2a64b8" stroke-width="1.5"/>
<line x1="346.0" y1="8.8" x2="351.4" y2="14" stroke="#b88a18" stroke-width="3.2" stroke-linecap="round"/>
<line x1="346.2" y1="9" x2="351.2" y2="13.8" stroke="#f0d048" stroke-width="1.6" stroke-linecap="round"/>
<circle cx="342.2" cy="4.5" r="5.3" fill="#d4eafc" stroke="#3a7ad0" stroke-width="1.2"/>
<line x1="339.2" y1="4.6" x2="345.2" y2="4.6" stroke="#2a64b8" stroke-width="1.5"/>
<rect x="364" y="-0.4" width="7.6" height="7.2" fill="#3a9a1a"/>
<rect x="364" y="-0.4" width="7.6" height="1.8" fill="#2a8010"/>
<rect x="365.1" y="2.0" width="5.6" height="3.4" fill="#ffffff"/>
<rect x="366" y="2.9" width="3.8" height="0.7" fill="#a8e090"/>
<rect x="366.2" y="4.3999999999999995" width="3.4" height="1" fill="#3a9a1a"/>
<rect x="365" y="0.09999999999999998" width="0.8" height="0.8" fill="#cfe0ff"/>
<rect x="372.4" y="-0.4" width="7.6" height="7.2" fill="#2458c8"/>
<rect x="372.4" y="-0.4" width="7.6" height="1.8" fill="#103898"/>
<rect x="373.5" y="2.0" width="5.6" height="3.4" fill="#ffffff"/>
<rect x="374.4" y="2.9" width="3.8" height="0.7" fill="#a0b8f0"/>
<rect x="374.59999999999997" y="4.3999999999999995" width="3.4" height="1" fill="#2458c8"/>
<rect x="373.4" y="0.09999999999999998" width="0.8" height="0.8" fill="#cfe0ff"/>
<rect x="364" y="7.4" width="7.6" height="7.2" fill="#2458c8"/>
<rect x="364" y="7.4" width="7.6" height="1.8" fill="#103898"/>
<rect x="365.1" y="9.8" width="5.6" height="3.4" fill="#ffffff"/>
<rect x="366" y="10.7" width="3.8" height="0.7" fill="#a0b8f0"/>
<rect x="366.2" y="12.2" width="3.4" height="1" fill="#2458c8"/>
<rect x="365" y="7.9" width="0.8" height="0.8" fill="#cfe0ff"/>
<rect x="372.4" y="7.4" width="7.6" height="7.2" fill="#3a9a1a"/>
<rect x="372.4" y="7.4" width="7.6" height="1.8" fill="#2a8010"/>
<rect x="373.5" y="9.8" width="5.6" height="3.4" fill="#ffffff"/>
<rect x="374.4" y="10.7" width="3.8" height="0.7" fill="#a8e090"/>
<rect x="374.59999999999997" y="12.2" width="3.4" height="1" fill="#3a9a1a"/>
<rect x="373.4" y="7.9" width="0.8" height="0.8" fill="#cfe0ff"/>
<rect x="389" y="0" width="1" height="17" fill="#a0a0a0" shape-rendering="crispEdges"/>
<rect x="394.5" y="17" width="25.19999999999999" height="1" fill="#fff" shape-rendering="crispEdges"/><rect x="418.7" y="0" width="1" height="18" fill="#fff" shape-rendering="crispEdges"/>
<rect x="394.5" y="0" width="24.19999999999999" height="17" fill="url(#chk)" shape-rendering="crispEdges"/><rect x="393.5" y="0" width="1" height="17" fill="#a0a0a0" shape-rendering="crispEdges"/>
<g fill="#505050" shape-rendering="crispEdges"><rect x="402" y="1" width="1" height="14"/><rect x="400" y="12" width="14" height="1"/><rect x="401" y="2" width="3" height="1"/><rect x="412" y="11" width="1" height="3"/></g>
<path d="M407.5 3 L411.5 6.3 L407.5 9.6 Z" fill="#30c030" stroke="#189018" stroke-width="0.7"/>
<rect x="423" y="17" width="25.19999999999999" height="1" fill="#fff" shape-rendering="crispEdges"/><rect x="447.2" y="0" width="1" height="18" fill="#fff" shape-rendering="crispEdges"/>
<rect x="423" y="0" width="24.19999999999999" height="17" fill="url(#chk)" shape-rendering="crispEdges"/><rect x="422" y="0" width="1" height="17" fill="#a0a0a0" shape-rendering="crispEdges"/>
<g fill="#505050" shape-rendering="crispEdges"><rect x="430" y="1" width="1" height="14"/><rect x="428" y="12" width="14" height="1"/><rect x="429" y="2" width="3" height="1"/><rect x="440" y="11" width="1" height="3"/></g>
<rect x="436" y="1" width="1.3" height="9.6" fill="#2868b0"/>
<path d="M437.6 6.5 L441 4.2 L440.4 6 L442.4 6 L442.4 7 L440.4 7 L441 8.8 Z" fill="#d04810"/>
<rect x="451" y="0" width="1" height="17" fill="#a0a0a0" shape-rendering="crispEdges"/>
<path d="M461.5 -1 L469.5 -1 L473 2.5 L473 12 L461.5 12 Z" fill="#fafafa" stroke="#909090" stroke-width="0.8"/><path d="M469.5 -1 L469.5 2.5 L473 2.5" fill="#e0e0e0" stroke="#909090" stroke-width="0.6"/>
<path d="M463.5 3 v6 M463.5 5 h2" stroke="#808080" stroke-width="0.8" fill="none"/>
<path d="M469.5 5.4 h3 v4.1 h4 v3 h-4 v4.1 h-3 v-4.1 h-4 v-3 h4 z" fill="#22cc22" stroke="#0a8a0a" stroke-width="0.9"/><path d="M470.2 6.2 h1.4 v4 h3.6 v1.2 h-8.4 v-1.2 h3.4 z" fill="#7cf07c" opacity="0.8"/>
<path d="M483 6 L488.4 6 L485.7 9 Z" fill="#000"/>
<circle cx="507" cy="6.8" r="7.6" fill="url(#gClock)"/><circle cx="507" cy="6.8" r="5.2" fill="#f4f8ff" stroke="#9ab8e8" stroke-width="0.6"/>
<path d="M507 3.2 L507 6.8 L509.6 6.8" stroke="#303030" stroke-width="1" fill="none"/><path d="M507 9.4 h0.1" stroke="#4080e0" stroke-width="1"/>
<path d="M522 6 L527.4 6 L524.7 9 Z" fill="#000"/>
<rect x="538.5" y="-1" width="15" height="14.5" fill="#ffffff" stroke="#3a78d0" stroke-width="1.2"/><rect x="538.5" y="-1" width="15" height="2.6" fill="#3a78d0"/><rect x="538.5" y="7.2" width="15" height="1" fill="#3a78d0"/>
<path d="M540.5 6 L543 4.6 L545.5 5.2 L548 4 L550 4.8 L552 3.8" stroke="#b02810" stroke-width="1.1" fill="none"/>
<path d="M540.5 11.5 L543 10.6 L545 11.4 L548 9.4 L550 11 L552 10" stroke="#189018" stroke-width="1.1" fill="none"/>
<path d="M561 6 L566.4 6 L563.7 9 Z" fill="#000"/>
<rect x="572" y="0" width="1" height="19" fill="#a0a0a0" shape-rendering="crispEdges"/><rect x="573" y="0" width="1" height="19" fill="#ffffff" shape-rendering="crispEdges"/>
<g shape-rendering="crispEdges">
<rect x="576" y="1" width="3" height="1" fill="#a8a8a8"/>
<rect x="576" y="3" width="3" height="1" fill="#a8a8a8"/>
<rect x="576" y="5" width="3" height="1" fill="#a8a8a8"/>
<rect x="576" y="7" width="3" height="1" fill="#a8a8a8"/>
<rect x="576" y="9" width="3" height="1" fill="#a8a8a8"/>
<rect x="576" y="11" width="3" height="1" fill="#a8a8a8"/>
<rect x="576" y="13" width="3" height="1" fill="#a8a8a8"/>
<rect x="576" y="15" width="3" height="1" fill="#a8a8a8"/>
</g>
<rect x="583" y="17" width="25.600000000000023" height="1" fill="#fff" shape-rendering="crispEdges"/><rect x="607.6" y="0" width="1" height="18" fill="#fff" shape-rendering="crispEdges"/>
<rect x="583" y="0" width="24.600000000000023" height="17" fill="url(#chk)" shape-rendering="crispEdges"/><rect x="582" y="0" width="1" height="17" fill="#a0a0a0" shape-rendering="crispEdges"/>
<path d="M590.2 -1 L590.2 10.6 L592.8 8.4 L595.2 14 L597.2 13.2 L594.9 7.8 L598.4 7.8 Z" fill="#404040"/>
<g shape-rendering="crispEdges" fill="#404040"><rect x="615" y="7" width="6" height="1"/><rect x="624" y="7" width="6" height="1"/><rect x="622" y="0" width="1" height="6"/><rect x="622" y="9" width="1" height="6"/><rect x="622" y="7" width="1" height="1" fill="#808080"/></g>
<rect x="639" y="0" width="1" height="17" fill="#a0a0a0" shape-rendering="crispEdges"/>
<g shape-rendering="crispEdges" fill="#404040"><rect x="656" y="1" width="1" height="13"/><rect x="679" y="7" width="12" height="1"/></g>
<line x1="706.8" y1="14" x2="719" y2="1.8" stroke="#404040" stroke-width="1"/>
<g stroke="#404040" fill="none"><path d="M732.6 8.7 L741 1.1 M737.7 14 L747.1 5.4" stroke-width="1"/><path d="M735.2 13.8 L736.2 6 M738.4 10.6 L739.3 4.4 M741.6 8 L742.5 2.6 M744.6 5.4 L745.4 -0.5" stroke-width="1.3"/></g>
<text x="744" y="16" font-family="Liberation Sans, Noto Sans CJK SC, sans-serif" font-size="6.5" font-weight="bold" fill="#303030">E</text>
<g fill="#404040" shape-rendering="crispEdges">
<rect x="762" y="0" width="1" height="1"/>
<rect x="764" y="0" width="1" height="1"/>
<rect x="766" y="0" width="1" height="1"/>
<rect x="768" y="0" width="1" height="1"/>
<rect x="770" y="0" width="1" height="1"/>
<rect x="772" y="0" width="1" height="1"/>
<rect x="774" y="0" width="1" height="1"/>
<rect x="762" y="3" width="1" height="1"/>
<rect x="764" y="3" width="1" height="1"/>
<rect x="766" y="3" width="1" height="1"/>
<rect x="768" y="3" width="1" height="1"/>
<rect x="770" y="3" width="1" height="1"/>
<rect x="772" y="3" width="1" height="1"/>
<rect x="774" y="3" width="1" height="1"/>
<rect x="762" y="7" width="1" height="1"/>
<rect x="764" y="7" width="1" height="1"/>
<rect x="766" y="7" width="1" height="1"/>
<rect x="768" y="7" width="1" height="1"/>
<rect x="770" y="7" width="1" height="1"/>
<rect x="772" y="7" width="1" height="1"/>
<rect x="774" y="7" width="1" height="1"/>
<rect x="762" y="11" width="1" height="1"/>
<rect x="764" y="11" width="1" height="1"/>
<rect x="766" y="11" width="1" height="1"/>
<rect x="768" y="11" width="1" height="1"/>
<rect x="770" y="11" width="1" height="1"/>
</g>
<text x="772" y="16" font-family="Liberation Sans, Noto Sans CJK SC, sans-serif" font-size="6.5" font-weight="bold" fill="#303030">F</text>
<text x="792.6" y="11.8" font-family="Liberation Sans, Noto Sans CJK SC, sans-serif" font-size="12" font-weight="bold" fill="#505050" textLength="8.4" lengthAdjust="spacingAndGlyphs">A</text>
<rect x="819.5" y="1.5" width="11" height="12" fill="none" stroke="#404040" stroke-width="1" stroke-dasharray="1 1" shape-rendering="crispEdges"/>
<text x="821.3" y="11.8" font-family="Liberation Sans, Noto Sans CJK SC, sans-serif" font-size="11.5" font-weight="bold" fill="#505050" textLength="7.6" lengthAdjust="spacingAndGlyphs">T</text>
<path d="M849.6 0.9 L853.3 4.1 L851.5 4.1 L851.5 5.5 L847.7 5.5 L847.7 4.1 L846.1 4.1 Z M854.4 9 L858.6 9 L858.6 10.2 L860.2 10.2 L856.5 13.9 L853 10.2 L854.4 10.2 Z" fill="#404040"/>
<path d="M848.1 8.6 L850.6 10.8 L855 5.5" stroke="#404040" stroke-width="1.3" fill="none"/>
<path d="M866.8 6 L872.1999999999999 6 L869.5 9 Z" fill="#000"/>
<rect x="878" y="0" width="1" height="19" fill="#a0a0a0" shape-rendering="crispEdges"/><rect x="879" y="0" width="1" height="19" fill="#ffffff" shape-rendering="crispEdges"/>
<g shape-rendering="crispEdges">
<rect x="882" y="1" width="3" height="1" fill="#a8a8a8"/>
<rect x="882" y="3" width="3" height="1" fill="#a8a8a8"/>
<rect x="882" y="5" width="3" height="1" fill="#a8a8a8"/>
<rect x="882" y="7" width="3" height="1" fill="#a8a8a8"/>
<rect x="882" y="9" width="3" height="1" fill="#a8a8a8"/>
<rect x="882" y="11" width="3" height="1" fill="#a8a8a8"/>
<rect x="882" y="13" width="3" height="1" fill="#a8a8a8"/>
<rect x="882" y="15" width="3" height="1" fill="#a8a8a8"/>
</g>
<rect x="1029.4" y="17" width="24.799999999999955" height="1" fill="#fff" shape-rendering="crispEdges"/><rect x="1053.2" y="0" width="1" height="18" fill="#fff" shape-rendering="crispEdges"/>
<rect x="1029.4" y="0" width="23.799999999999955" height="17" fill="url(#chk)" shape-rendering="crispEdges"/><rect x="1028.4" y="0" width="1" height="17" fill="#a0a0a0" shape-rendering="crispEdges"/>
<text x="893.7" y="10.9" font-family="Liberation Sans, Noto Sans CJK SC, sans-serif" font-size="9.8" fill="#333" stroke="#333" stroke-width="0.2" text-rendering="geometricPrecision" textLength="12.5" lengthAdjust="spacingAndGlyphs">M1</text>
<text x="921.8" y="10.9" font-family="Liberation Sans, Noto Sans CJK SC, sans-serif" font-size="9.8" fill="#333" stroke="#333" stroke-width="0.2" text-rendering="geometricPrecision" textLength="12.5" lengthAdjust="spacingAndGlyphs">M5</text>
<text x="947.9" y="10.9" font-family="Liberation Sans, Noto Sans CJK SC, sans-serif" font-size="9.8" fill="#333" stroke="#333" stroke-width="0.2" text-rendering="geometricPrecision" textLength="17.2" lengthAdjust="spacingAndGlyphs">M15</text>
<text x="975.7" y="10.9" font-family="Liberation Sans, Noto Sans CJK SC, sans-serif" font-size="9.8" fill="#333" stroke="#333" stroke-width="0.2" text-rendering="geometricPrecision" textLength="17.4" lengthAdjust="spacingAndGlyphs">M30</text>
<text x="1006.8" y="10.9" font-family="Liberation Sans, Noto Sans CJK SC, sans-serif" font-size="9.8" fill="#333" stroke="#333" stroke-width="0.2" text-rendering="geometricPrecision" textLength="11.3" lengthAdjust="spacingAndGlyphs">H1</text>
<text x="1033.6" y="10.9" font-family="Liberation Sans, Noto Sans CJK SC, sans-serif" font-size="9.8" fill="#333" stroke="#333" stroke-width="0.2" text-rendering="geometricPrecision" textLength="12.0" lengthAdjust="spacingAndGlyphs">H4</text>
<text x="1062.7" y="10.9" font-family="Liberation Sans, Noto Sans CJK SC, sans-serif" font-size="9.8" fill="#333" stroke="#333" stroke-width="0.2" text-rendering="geometricPrecision" textLength="11.2" lengthAdjust="spacingAndGlyphs">D1</text>
<text x="1090.2" y="10.9" font-family="Liberation Sans, Noto Sans CJK SC, sans-serif" font-size="9.8" fill="#333" stroke="#333" stroke-width="0.2" text-rendering="geometricPrecision" textLength="13.8" lengthAdjust="spacingAndGlyphs">W1</text>
<text x="1116.8" y="10.9" font-family="Liberation Sans, Noto Sans CJK SC, sans-serif" font-size="9.8" fill="#333" stroke="#333" stroke-width="0.2" text-rendering="geometricPrecision" textLength="14.2" lengthAdjust="spacingAndGlyphs">MN</text>
<rect x="1139" y="0" width="1" height="19" fill="#a0a0a0" shape-rendering="crispEdges"/><rect x="1140" y="0" width="1" height="19" fill="#ffffff" shape-rendering="crispEdges"/>
<line x1="1606.3" y1="7.6" x2="1602" y2="11.9" stroke="#2a5ad0" stroke-width="2.4" stroke-linecap="round"/><circle cx="1609.7" cy="4.3" r="4" fill="#f4f6ff" stroke="#2a5ad0" stroke-width="1.2"/>
<path d="M1632 4.4 Q1638 4.4 1638 9 Q1638 13.4 1632.5 13.5 L1630.6 13.5 L1629.2 15.6 L1629 13.3 Q1626.4 12.6 1626.4 9 Q1626.4 4.4 1632 4.4 Z" fill="#dcdde6" stroke="#c4c4cc" stroke-width="0.6"/>
<circle cx="1640.6" cy="4.6" r="8.2" fill="url(#gBadge)"/>
<text x="1639.8" y="8.8" font-family="Liberation Sans, Noto Sans CJK SC, sans-serif" font-size="12.5" fill="#fff" text-anchor="middle">1</text>
</g></g>
</svg>
</body></html>
